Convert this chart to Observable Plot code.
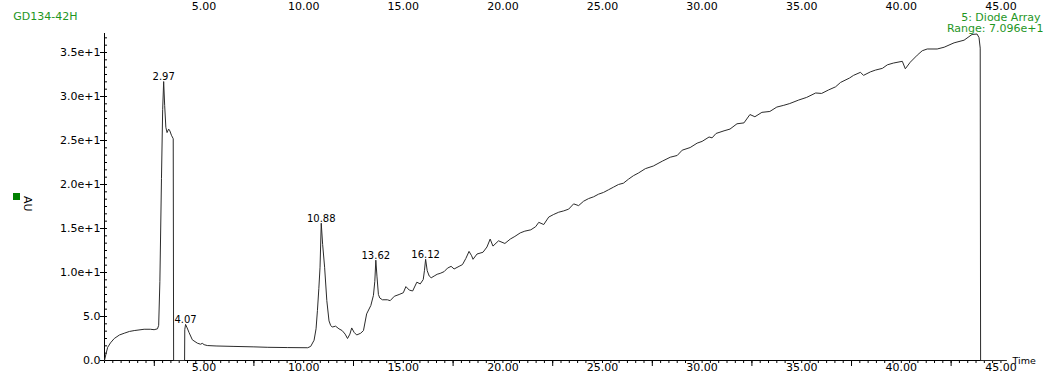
<!DOCTYPE html>
<html><head><meta charset="utf-8">
<script src="https://cdn.jsdelivr.net/npm/d3@7"></script>
<script src="https://cdn.jsdelivr.net/npm/@observablehq/plot@0.6"></script>
<style>
html,body{margin:0;padding:0;background:#fff;}
#chart{position:relative;width:1053px;height:373px;overflow:hidden;}
#chart svg{display:block;}
#sq{position:absolute;left:13px;top:193px;width:7px;height:7px;background:#008000;}
</style></head><body><div id="chart"><div id="sq"></div></div>
<script>
// Retention time (min)
const rt = [0.00,0.08,0.16,0.30,0.49,0.75,0.99,1.25,1.49,1.99,2.30,2.49,2.66,2.72,2.78,2.86,2.92,2.97,3.02,3.08,3.14,3.22,3.28,3.36,3.45,3.47,
4.02,4.03,4.07,4.15,4.24,4.41,4.66,4.82,4.91,5.00,5.16,5.60,6.50,7.50,8.20,9.20,10.20,10.35,10.52,10.62,10.69,10.76,10.82,10.88,10.95,11.05,11.16,11.27,11.35,11.43,11.60,11.77,11.93,12.08,12.20,12.32,12.41,12.53,12.66,12.86,13.00,13.16,13.37,13.50,13.57,13.62,13.68,13.75,13.82,13.95,14.20,14.34,14.55,14.79,15.00,15.13,15.30,15.47,15.68,15.85,16.00,16.06,16.12,16.20,16.30,16.40,16.55,16.70,16.85,17.05,17.22,17.40,17.55,17.80,17.97,18.14,18.30,18.43,18.50,18.70,19.00,19.20,19.36,19.50,19.78,20.10,20.37,20.60,20.87,21.10,21.40,21.64,21.80,22.05,22.30,22.55,22.80,23.05,23.30,23.55,23.80,24.05,24.30,24.55,24.80,25.05,25.30,25.55,25.80,26.05,26.30,26.55,26.80,27.15,27.55,28.00,28.40,28.75,29.00,29.40,29.75,30.00,30.35,30.50,30.70,31.10,31.40,31.75,32.10,32.40,32.65,33.00,33.40,33.75,34.10,34.40,34.85,35.25,35.70,36.00,36.35,36.70,36.95,37.40,37.60,37.95,38.10,38.45,38.70,39.05,39.30,39.60,40.05,40.20,40.45,40.80,41.05,41.30,41.80,42.15,42.65,43.15,43.55,43.80,43.90,43.96,43.98,45.28];
// Absorbance (AU)
const au = [0.0,0.8,1.5,2.0,2.5,2.9,3.1,3.3,3.4,3.55,3.55,3.5,3.6,4.0,9.0,20.7,28.5,31.7,29.0,26.5,25.9,26.3,26.1,25.6,25.2,0.0,
0.0,3.5,4.1,3.7,3.2,2.35,1.97,1.85,1.95,1.8,1.7,1.65,1.6,1.55,1.5,1.47,1.45,1.6,2.3,3.6,5.7,8.2,10.6,15.6,13.2,10.6,6.8,4.5,4.0,3.8,3.9,3.6,3.4,3.0,2.5,3.0,3.7,3.2,2.9,3.1,3.4,5.3,6.25,7.4,9.0,11.4,9.5,7.5,7.1,6.9,6.9,6.8,7.3,7.5,7.7,8.4,8.0,7.9,8.9,8.7,9.2,10.2,11.5,10.2,9.6,9.4,9.6,9.8,9.9,10.1,10.5,10.7,10.4,10.7,10.9,11.6,12.4,11.9,11.5,12.1,12.3,12.9,13.8,13.0,13.6,13.3,13.8,14.1,14.5,14.7,14.85,15.2,15.7,15.45,16.3,16.6,16.85,17.0,17.2,17.8,17.6,18.1,18.4,18.6,18.9,19.1,19.4,19.7,20.0,20.15,20.6,21.0,21.3,21.8,22.1,22.65,23.1,23.3,23.9,24.2,24.7,24.9,25.4,25.3,25.8,26.1,26.3,26.9,27.0,27.95,27.7,28.2,28.3,28.8,29.0,29.2,29.6,29.9,30.4,30.35,30.75,31.1,31.6,32.1,32.4,32.75,32.4,32.8,33.0,33.2,33.6,33.8,34.0,33.15,33.9,34.7,35.2,35.4,35.4,35.6,36.1,36.4,37.05,37.1,36.7,35.5,0.0,0.0];

// Labelled peaks
const peakRt = [2.97, 4.07, 10.88, 13.62, 16.12];
const peakAu = [31.7, 4.1, 15.6, 11.4, 11.5];

// Axis ticks and labels
const xLabels = [5, 10, 15, 20, 25, 30, 35, 40, 45];
const xLong = [2.5, 7.5, 12.5, 17.5, 22.5, 27.5, 32.5, 37.5, 42.5];
const yTicks = [0, 5, 10, 15, 20, 25, 30, 35];
const yLabels = ["0.0", "5.0", "1.0e+1", "1.5e+1", "2.0e+1", "2.5e+1", "3.0e+1", "3.5e+1"];
const xMinor = d3.range(0, 45.2, 5 / 12);
const yMinor = d3.range(0, 37.1, 5 / 6);

const sampleName = "GD134-42H";
const detector = "5: Diode Array";
const rangeText = "Range: 7.096e+1";
const yTitle = "AU";
const xTitle = "Time";

const green = "#1f961f";
const trace = rt.map((t, i) => ({t, v: au[i]}));
const peaks = peakRt.map((t, i) => ({t, v: peakAu[i]}));

const chart = Plot.plot({
  width: 1053,
  height: 373,
  marginLeft: 104,
  marginRight: 47,
  marginTop: 33,
  marginBottom: 13,
  style: {fontFamily: "DejaVu Sans", fontSize: "11px", background: "white", color: "black", overflow: "hidden"},
  x: {domain: [0, 45.28], axis: null},
  y: {domain: [0, 37.16], axis: null},
  marks: [
    Plot.axisX({ticks: xMinor, tickSize: 3, tickFormat: () => "", label: null}),
    Plot.axisX({ticks: xLong, tickSize: 6, tickFormat: () => "", label: null}),
    Plot.text(xLabels, {x: d => d, text: d => d.toFixed(2), frameAnchor: "bottom", lineAnchor: "middle", dy: 7, fill: "black", fontSize: 11}),
    Plot.text(xLabels, {x: d => d, text: d => d.toFixed(2), frameAnchor: "top", lineAnchor: "middle", dy: -27.5, fill: "black", fontSize: 11}),
    Plot.axisY({ticks: yTicks, tickSize: 4, tickPadding: 0, tickFormat: d => yLabels[yTicks.indexOf(d)], label: null, fontSize: 11}),
    Plot.axisY({ticks: yMinor, tickSize: -3, tickFormat: () => "", label: null}),
    Plot.ruleY([0], {stroke: "black"}),
    Plot.ruleX([0], {stroke: "black"}),
    Plot.line(trace, {x: "t", y: "v", stroke: "#2b2b2b", strokeWidth: 1}),
    Plot.text(peaks, {x: "t", y: "v", text: d => d.t.toFixed(2), lineAnchor: "bottom", dy: -1.5, fontSize: 10, fill: "black"}),
    Plot.text([sampleName], {frameAnchor: "top-left", lineAnchor: "middle", textAnchor: "start", dx: -91.3, dy: -17.5, fill: green, fontSize: 11}),
    Plot.text([detector], {frameAnchor: "top-right", lineAnchor: "middle", textAnchor: "end", dx: 34, dy: -16.5, fill: green, fontSize: 11}),
    Plot.text([rangeText], {frameAnchor: "top-right", lineAnchor: "middle", textAnchor: "end", dx: 37, dy: -5.5, fill: green, fontSize: 11}),
    Plot.text([xTitle], {frameAnchor: "bottom-right", lineAnchor: "middle", textAnchor: "start", dx: 6, dy: 0.5, fill: "black", fontSize: 9.5}),
    Plot.text([yTitle], {frameAnchor: "left", lineAnchor: "middle", rotate: 90, dx: -77.3, dy: -1, fill: "black", fontSize: 11})
  ]
});
document.getElementById("chart").appendChild(chart);
</script>
</body></html>
